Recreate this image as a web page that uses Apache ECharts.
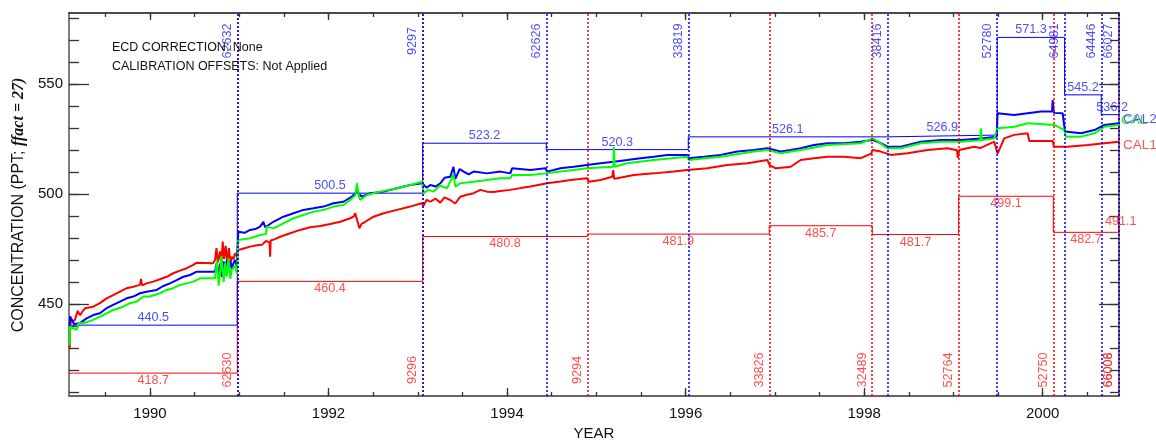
<!DOCTYPE html>
<html>
<head>
<meta charset="utf-8">
<script src="https://cdn.jsdelivr.net/npm/echarts@6/dist/echarts.min.js"></script>
<style>
html,body{margin:0;padding:0;background:#fff;}
#chart{width:1156px;height:440px;}
</style>
</head>
<body>
<div id="chart"></div>
<script>
// ---------------- DATA ----------------
const yearLabels = [1990, 1992, 1994, 1996, 1998, 2000];
const yLabels = [450, 500, 550];

// CAL1 (red) measured series [year, ppt]
const cal1Series = [
[1989.100,430.1],[1989.108,441.5],[1989.159,442.9],[1989.190,447.0],[1989.215,445.1],[1989.271,448.2],[1989.364,448.9],[1989.439,450.5],[1989.514,452.7],[1989.588,454.2],[1989.664,455.7],[1989.739,457.3],[1989.813,458.0],[1989.888,458.8],[1989.900,461.5],[1989.912,458.6],[1989.963,459.5],[1990.037,460.3],[1990.112,461.4],[1990.187,462.5],[1990.261,464.1],[1990.336,465.3],[1990.412,466.4],[1990.486,467.9],[1990.524,468.9],[1990.707,468.6],[1990.729,470.1],[1990.745,475.5],[1990.760,469.0],[1990.785,474.0],[1990.800,468.5],[1990.815,478.5],[1990.830,470.5],[1990.848,476.5],[1990.865,469.5],[1990.885,475.5],[1990.900,468.0],[1990.916,471.6],[1990.935,470.5],[1990.953,473.2],[1990.972,472.0],[1990.990,474.7],[1991.060,475.5],[1991.121,476.2],[1991.200,476.8],[1991.253,477.0],[1991.300,478.8],[1991.340,478.0],[1991.346,471.6],[1991.352,479.0],[1991.400,479.6],[1991.458,480.7],[1991.570,482.3],[1991.682,483.8],[1991.794,485.0],[1991.906,485.6],[1992.019,486.5],[1992.131,487.5],[1992.243,489.1],[1992.285,490.0],[1992.299,491.4],[1992.330,487.0],[1992.345,484.5],[1992.370,486.5],[1992.411,487.5],[1992.504,489.8],[1992.617,491.4],[1992.767,492.9],[1992.916,494.4],[1993.040,495.9],[1993.065,494.8],[1993.100,497.5],[1993.140,496.6],[1993.200,498.0],[1993.252,496.2],[1993.300,498.6],[1993.364,497.4],[1993.420,495.8],[1993.477,498.9],[1993.550,499.8],[1993.626,500.5],[1993.701,502.0],[1993.776,501.2],[1993.850,501.0],[1993.925,501.5],[1994.037,502.0],[1994.150,502.8],[1994.262,503.5],[1994.449,505.0],[1994.600,505.8],[1994.710,506.5],[1994.897,507.3],[1994.915,505.7],[1995.047,506.5],[1995.178,508.0],[1995.190,511.0],[1995.200,507.0],[1995.234,507.3],[1995.420,508.8],[1995.644,509.5],[1995.869,510.3],[1996.019,511.0],[1996.243,511.8],[1996.467,513.3],[1996.692,514.1],[1996.916,515.6],[1996.940,513.3],[1997.009,511.8],[1997.100,512.2],[1997.177,512.5],[1997.289,515.6],[1997.438,516.4],[1997.589,517.1],[1997.775,517.1],[1997.962,516.4],[1998.080,518.5],[1998.093,520.1],[1998.187,519.4],[1998.299,517.9],[1998.486,518.6],[1998.710,520.1],[1998.935,520.9],[1999.040,520.0],[1999.050,516.5],[1999.065,520.1],[1999.233,521.6],[1999.300,521.0],[1999.457,523.9],[1999.495,518.5],[1999.569,525.4],[1999.681,527.0],[1999.832,527.7],[1999.850,524.2],[2000.115,524.2],[2000.125,521.6],[2000.280,521.6],[2000.505,522.4],[2000.691,523.2],[2000.855,523.9]
];

// CAL2 (blue) measured series
const cal2Series = [
[1989.100,439.8],[1989.105,444.5],[1989.150,441.0],[1989.215,441.4],[1989.290,443.6],[1989.364,445.1],[1989.439,445.9],[1989.514,448.2],[1989.588,449.7],[1989.664,451.2],[1989.739,452.7],[1989.813,453.5],[1989.888,455.0],[1989.963,455.7],[1990.075,456.5],[1990.149,458.3],[1990.224,459.5],[1990.299,461.0],[1990.374,462.5],[1990.449,463.3],[1990.524,464.8],[1990.729,464.8],[1990.745,468.5],[1990.765,463.5],[1990.785,468.6],[1990.805,462.5],[1990.825,469.5],[1990.845,464.0],[1990.860,470.1],[1990.880,465.5],[1990.900,469.5],[1990.916,466.0],[1990.935,468.6],[1990.953,470.1],[1990.972,467.5],[1990.990,483.0],[1991.060,482.5],[1991.121,483.8],[1991.180,484.2],[1991.234,485.3],[1991.271,487.5],[1991.290,485.0],[1991.383,487.5],[1991.495,489.8],[1991.607,491.4],[1991.719,492.9],[1991.831,493.6],[1991.944,494.4],[1992.056,495.9],[1992.168,496.6],[1992.262,498.9],[1992.318,501.2],[1992.374,498.9],[1992.467,500.5],[1992.617,501.2],[1992.767,502.7],[1992.916,504.2],[1993.047,505.0],[1993.065,505.7],[1993.100,503.0],[1993.140,504.2],[1993.200,503.5],[1993.252,505.0],[1993.300,507.5],[1993.364,508.0],[1993.400,512.5],[1993.420,507.0],[1993.470,511.5],[1993.514,510.3],[1993.570,509.0],[1993.626,510.3],[1993.776,509.5],[1993.925,510.3],[1994.037,509.5],[1994.056,511.8],[1994.262,511.0],[1994.430,511.8],[1994.449,510.3],[1994.598,511.8],[1994.747,512.5],[1994.897,513.3],[1995.047,514.1],[1995.196,514.8],[1995.346,515.6],[1995.495,516.4],[1995.644,517.1],[1995.795,517.9],[1996.019,517.9],[1996.035,516.4],[1996.205,517.1],[1996.392,517.9],[1996.580,519.4],[1996.766,520.1],[1996.916,520.9],[1997.065,519.4],[1997.177,520.1],[1997.289,520.9],[1997.438,522.4],[1997.589,523.2],[1997.775,523.2],[1997.962,523.9],[1998.093,524.7],[1998.187,523.2],[1998.262,521.6],[1998.411,521.6],[1998.635,523.9],[1998.860,524.7],[1999.084,524.7],[1999.308,525.4],[1999.485,526.2],[1999.495,536.8],[1999.681,536.0],[1999.832,536.8],[1999.981,537.6],[2000.105,537.6],[2000.112,542.8],[2000.125,537.0],[2000.224,536.8],[2000.250,528.5],[2000.430,527.7],[2000.579,529.2],[2000.691,531.5],[2000.855,532.3]
];

// third (green) series
const calSeries = [
[1989.100,431.5],[1989.104,440.0],[1989.178,438.3],[1989.200,441.5],[1989.252,441.4],[1989.364,442.9],[1989.476,445.1],[1989.588,447.4],[1989.700,448.9],[1989.776,450.5],[1989.851,451.2],[1989.925,453.5],[1990.000,453.5],[1990.112,455.0],[1990.187,456.5],[1990.261,457.3],[1990.336,458.8],[1990.412,459.5],[1990.486,460.3],[1990.561,461.8],[1990.729,461.8],[1990.750,470.0],[1990.770,458.5],[1990.785,464.1],[1990.800,472.0],[1990.825,460.0],[1990.841,468.6],[1990.860,462.5],[1990.880,471.0],[1990.900,461.5],[1990.916,465.6],[1990.950,467.5],[1990.975,464.0],[1990.990,479.2],[1991.121,480.0],[1991.234,481.5],[1991.300,482.0],[1991.308,485.3],[1991.383,484.5],[1991.495,486.8],[1991.607,489.1],[1991.719,490.6],[1991.831,492.1],[1991.944,492.9],[1992.056,494.4],[1992.168,495.1],[1992.243,497.4],[1992.300,499.5],[1992.318,505.0],[1992.340,499.0],[1992.355,497.4],[1992.430,499.7],[1992.579,501.2],[1992.767,502.7],[1992.916,504.2],[1993.047,505.7],[1993.065,500.5],[1993.120,502.0],[1993.177,501.2],[1993.250,504.0],[1993.327,502.7],[1993.400,509.0],[1993.420,503.5],[1993.477,505.0],[1993.626,505.7],[1993.776,506.5],[1993.925,507.3],[1994.037,507.3],[1994.056,508.8],[1994.262,508.8],[1994.430,509.5],[1994.598,510.3],[1994.747,511.0],[1994.897,511.8],[1995.190,512.5],[1995.196,521.6],[1995.205,512.5],[1995.346,514.1],[1995.644,515.6],[1996.019,517.1],[1996.035,515.6],[1996.392,517.1],[1996.766,519.4],[1996.916,520.1],[1997.065,518.6],[1997.289,520.1],[1997.589,522.4],[1997.962,523.2],[1998.100,525.4],[1998.262,520.9],[1998.411,520.9],[1998.635,523.2],[1998.860,523.9],[1999.084,523.9],[1999.300,524.5],[1999.308,530.0],[1999.316,524.7],[1999.457,525.4],[1999.495,530.0],[1999.681,530.7],[1999.832,532.3],[1999.850,531.5],[2000.130,531.5],[2000.140,530.7],[2000.242,529.2],[2000.260,526.2],[2000.430,526.2],[2000.579,527.7],[2000.691,530.7],[2000.855,531.5]
];

// calibration tank steps
const blueStepStarts = [1989.093, 1990.978, 1993.055, 1994.439, 1996.030, 1998.259, 1999.491, 2000.246, 2000.656];
const blueStepValues = [440.5, 500.5, 523.2, 520.3, 526.1, 526.9, 571.3, 545.2, 536.2];
const redStepStarts = [1989.093, 1990.978, 1993.055, 1994.899, 1996.937, 1998.091, 1999.059, 2000.119, 2000.850];
const redStepValues = [418.7, 460.4, 480.8, 481.9, 485.7, 481.7, 499.1, 482.7, 491.1];
const stepEnd = 2000.9;

// tank change markers
const blueTankYears = [1990.978, 1993.055, 1994.439, 1996.030, 1998.259, 1999.491, 2000.246, 2000.656, 2000.850];
const blueTankIds = ['62632', '9297', '62626', '33819', '38416', '52780', '64981', '64446', '66027'];
const redTankYears = [1990.978, 1993.055, 1994.899, 1996.937, 1998.091, 1999.059, 2000.119, 2000.850, 2000.850];
const redTankIds = ['62630', '9296', '9294', '33826', '32489', '52764', '52750', '66006', '66008'];

const endLabels = [
  {text: 'CAL', value: 533.6, color: '#00e000', dist: 2},
  {text: 'CAL2', value: 534.2, color: '#2a2aff', dist: 4},
  {text: 'CAL1', value: 522.4, color: '#ff2a2a', dist: 4}
];

// ---------------- CHART ----------------
const X_MIN = 1989.093, X_MAX = 2000.855, Y_MIN = 408.3, Y_MAX = 582.4;
const PX_PER_YEAR = 89.27;
const ID_SHIFT = 10 / PX_PER_YEAR;
const FONT = "'Liberation Sans', Arial, sans-serif";
const NFONT = "'Liberation Sans', Arial, sans-serif";
const NSIZE = 12.6;
const BLUE = '#0000ff', RED = '#ff0000', GREEN = '#00ff00';
const BLUE_TXT = '#2020ff', RED_TXT = '#ff2020';

function halfYears() { const a = []; for (let y = 1989.5; y <= 2000.5; y += 0.5) a.push(y); return a; }
function tens() { const a = []; for (let v = 410; v <= 580; v += 10) a.push(v); return a; }

function stepData(starts, vals) {
  const d = [];
  for (let i = 0; i < starts.length; i++) {
    const e = i + 1 < starts.length ? starts[i + 1] : stepEnd;
    d.push([starts[i], vals[i]], [e, vals[i]]);
  }
  return d;
}
function stepLabelData(starts, vals) {
  return starts.map((s, i) => {
    const e = i + 1 < starts.length ? starts[i + 1] : stepEnd;
    return {value: [(s + e) / 2, vals[i]], name: vals[i].toFixed(1)};
  });
}

const chart = echarts.init(document.getElementById('chart'), null, {renderer: 'canvas'});

const tickStyle = {color: '#333', width: 1.3};
function xAx(pos, len, vals, line, label) {
  return {
    type: 'value', position: pos, min: X_MIN, max: X_MAX,
    axisLine: {show: !!line, onZero: false, lineStyle: line || {}},
    axisTick: {show: true, inside: true, length: len, customValues: vals, lineStyle: tickStyle},
    axisLabel: label ? {show: true, customValues: yearLabels, margin: 10, fontSize: 15, fontFamily: FONT, color: '#111', formatter: v => String(Math.round(v))} : {show: false},
    splitLine: {show: false}
  };
}
function yAx(pos, len, vals, line, label) {
  return {
    type: 'value', position: pos, min: Y_MIN, max: Y_MAX,
    axisLine: {show: !!line, onZero: false, lineStyle: line || {}},
    axisTick: {show: true, inside: true, length: len, customValues: vals, lineStyle: tickStyle},
    axisLabel: label ? {show: true, customValues: yLabels, margin: 6, fontSize: 15, fontFamily: FONT, color: '#111', formatter: v => String(Math.round(v))} : {show: false},
    splitLine: {show: false}
  };
}

const xAxes = [
  xAx('bottom', 4, halfYears(), {color: '#666', width: 2}, true),
  xAx('bottom', 8, yearLabels, null, false),
  xAx('top', 4, halfYears(), {color: '#111', width: 1.5}, false),
  xAx('top', 7, yearLabels, null, false)
];
xAxes[0].name = 'YEAR';
xAxes[0].nameLocation = 'middle';
xAxes[0].nameGap = 36;
xAxes[0].nameTextStyle = {fontSize: 15, fontFamily: FONT, color: '#111', verticalAlign: 'middle'};

const yAxes = [
  yAx('left', 10, tens(), {color: '#555', width: 1.5}, true),
  yAx('left', 20, yLabels, null, false),
  yAx('right', 9, tens(), {color: '#444', width: 1.5}, false),
  yAx('right', 20, yLabels, null, false)
];

function idLabelSeries(years, ids, yv, color) {
  return {
    type: 'scatter', symbolSize: 0, silent: true, clip: false, z: 6, animation: false,
    data: years.map((y, i) => ({value: [y - ID_SHIFT, yv], name: ids[i]})),
    label: {show: true, position: 'inside', rotate: 90, formatter: '{b}', color: color,
      fontSize: NSIZE, fontFamily: NFONT, align: 'center', verticalAlign: 'middle'}
  };
}
function valueLabelSeries(starts, vals, color, pos) {
  return {
    type: 'scatter', symbolSize: 0, silent: true, clip: false, z: 6, animation: false,
    data: stepLabelData(starts, vals),
    label: {show: true, position: pos, distance: 1, formatter: '{b}', color: color,
      fontSize: NSIZE, fontFamily: NFONT}
  };
}
function markLines(years, color) {
  return {
    silent: true, symbol: ['none', 'none'], animation: false,
    label: {show: false},
    lineStyle: {type: [2, 2], color: color, width: 1.5, opacity: 1},
    emphasis: {disabled: true},
    data: years.map(y => ({xAxis: y}))
  };
}

const option = {
  backgroundColor: '#fff',
  animation: false,
  grid: {left: 69, right: 37, top: 13, bottom: 44, containLabel: false, outerBoundsMode: 'none'},
  xAxis: xAxes,
  yAxis: yAxes,
  graphic: [
    {type: 'text', x: 112, y: 48, z: 10, style: {text: 'ECD CORRECTION: None', fontSize: 12.5, fontFamily: FONT, fill: '#111', verticalAlign: 'middle'}},
    {type: 'text', x: 112, y: 66.5, z: 10, style: {text: 'CALIBRATION OFFSETS: Not Applied', fontSize: 12.5, fontFamily: FONT, fill: '#111', verticalAlign: 'middle'}},
    {type: 'text', x: 19, y: 205, rotation: Math.PI / 2, z: 10, style: {
      text: '{n|CONCENTRATION (PPT; }{i|ffact = 27)}', align: 'center', verticalAlign: 'middle',
      rich: {
        n: {fontSize: 16, fontFamily: FONT, fill: '#111', color: '#111'},
        i: {fontSize: 16, fontFamily: "'Liberation Serif', serif", fontStyle: 'italic', fontWeight: 'bold', fill: '#111', color: '#111'}
      }}}
  ],
  series: [
    {type: 'line', name: 'redStep', data: stepData(redStepStarts, redStepValues), symbol: 'none', z: 2,
      lineStyle: {color: RED, width: 1}, silent: true, markLine: markLines(redTankYears, RED)},
    {type: 'line', name: 'blueStep', data: stepData(blueStepStarts, blueStepValues), symbol: 'none', z: 2,
      lineStyle: {color: BLUE, width: 1}, silent: true, markLine: markLines(blueTankYears, BLUE)},
    {type: 'line', name: 'CAL1', data: cal1Series, symbol: 'none', z: 3, lineStyle: {color: RED, width: 2}, silent: true},
    {type: 'line', name: 'CAL2', data: cal2Series, symbol: 'none', z: 3, lineStyle: {color: BLUE, width: 2}, silent: true},
    {type: 'line', name: 'CAL', data: calSeries, symbol: 'none', z: 3, lineStyle: {color: GREEN, width: 2}, silent: true},
    valueLabelSeries(blueStepStarts, blueStepValues, BLUE_TXT, 'top'),
    valueLabelSeries(redStepStarts, redStepValues, RED_TXT, 'bottom'),
    idLabelSeries(blueTankYears, blueTankIds, 569.7, BLUE_TXT),
    idLabelSeries(redTankYears, redTankIds, 420.1, RED_TXT),
    {
      type: 'scatter', symbolSize: 0, silent: true, clip: false, z: 6, animation: false,
      data: endLabels.map(l => ({value: [X_MAX, l.value], name: l.text,
        label: {color: l.color, distance: l.dist}})),
      label: {show: true, position: 'right', formatter: '{b}', fontSize: 13.5, fontFamily: NFONT}
    }
  ]
};
chart.setOption(option);
</script>
</body>
</html>
